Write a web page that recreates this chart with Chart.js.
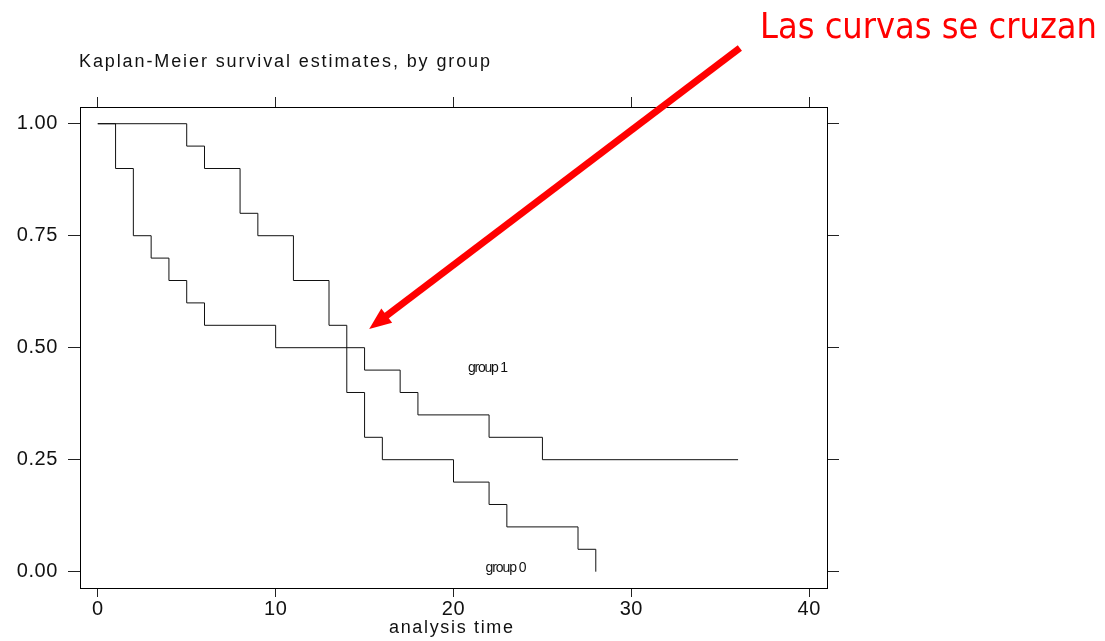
<!DOCTYPE html>
<html lang="es">
<head>
  <meta charset="UTF-8">
  <title>Kaplan-Meier survival estimates, by group</title>
  <script src="https://cdn.jsdelivr.net/npm/chart.js"></script>
  <style>
    body { margin: 0; background: #fff; }
    #container { width: 1105px; height: 641px; }
  </style>
</head>
<body>
  <div id="container">
    <canvas id="chart" width="1105" height="641"></canvas>
  </div>
  <script>
    // Tiempos de evento y supervivencia estimada por grupo
    const group0Times = [0, 5, 6, 8, 9, 11, 13, 14, 15, 16, 20, 22, 23, 27, 28];
    const group0Surv  = [1.00, 0.95, 0.90, 0.80, 0.75, 0.65, 0.55, 0.40, 0.30, 0.25, 0.20, 0.15, 0.10, 0.05, 0.00];
    const group1Times = [0, 1, 2, 3, 4, 5, 6, 10, 15, 17, 18, 22, 25, 36];
    const group1Surv  = [1.00, 0.90, 0.75, 0.70, 0.65, 0.60, 0.55, 0.50, 0.45, 0.40, 0.35, 0.30, 0.25, 0.25];

    const xTicks = [0, 10, 20, 30, 40];
    const yTicks = [0, 0.25, 0.5, 0.75, 1];

    const xMin = -1, xMax = 41;
    const yMin = -0.0364, yMax = 1.0373;

    const toPoints = (t, s) => t.map((v, i) => ({ x: v, y: s[i] }));

    // escribe texto ajustado a un ancho dado con espaciado entre letras
    function spacedText(ctx, text, x, y, width) {
      ctx.letterSpacing = '0px';
      const w = ctx.measureText(text).width;
      ctx.letterSpacing = ((width - w) / (text.length - 1)) + 'px';
      ctx.fillText(text, x, y);
      ctx.letterSpacing = '0px';
    }

    const notes = {
      id: 'notes',
      beforeDraw(chart) {
        chart.ctx.letterSpacing = '0.6px';
      },
      afterDraw(chart) {
        const ctx = chart.ctx;
        const xs = chart.scales.x, ys = chart.scales.y;
        ctx.save();
        ctx.letterSpacing = '0px';
        ctx.textBaseline = 'alphabetic';
        ctx.textAlign = 'left';
        ctx.fillStyle = '#111';

        ctx.font = '18px "Liberation Sans", Arial, sans-serif';
        spacedText(ctx, 'Kaplan-Meier survival estimates, by group', 79, 67, 411);

        ctx.font = '18px "Liberation Sans", Arial, sans-serif';
        spacedText(ctx, 'analysis time', 389, 633, 124);

        // etiquetas de cada curva
        ctx.font = '14px "Liberation Sans", Arial, sans-serif';
        spacedText(ctx, 'group 1', xs.getPixelForValue(20.82), ys.getPixelForValue(0.446), 40);
        spacedText(ctx, 'group 0', xs.getPixelForValue(21.8), ys.getPixelForValue(0.0), 41);

        // flecha hacia el cruce de las curvas
        const x1 = xs.getPixelForValue(36.1), y1 = ys.getPixelForValue(1.169);
        const x2 = xs.getPixelForValue(15.26), y2 = ys.getPixelForValue(0.542);
        const ang = Math.atan2(y2 - y1, x2 - x1);
        const head = 22, half = 9;
        const bx = x2 - head * Math.cos(ang), by = y2 - head * Math.sin(ang);
        ctx.strokeStyle = '#ff0000';
        ctx.fillStyle = '#ff0000';
        ctx.lineWidth = 7;
        ctx.beginPath();
        ctx.moveTo(x1, y1);
        ctx.lineTo(bx + 2 * Math.cos(ang), by + 2 * Math.sin(ang));
        ctx.stroke();
        ctx.beginPath();
        ctx.moveTo(x2, y2);
        ctx.lineTo(bx + half * Math.sin(ang), by - half * Math.cos(ang));
        ctx.lineTo(bx - half * Math.sin(ang), by + half * Math.cos(ang));
        ctx.closePath();
        ctx.fill();

        ctx.font = '35px "DejaVu Sans Condensed", "DejaVu Sans", sans-serif';
        const msg = 'Las curvas se cruzan';
        const mw = ctx.measureText(msg).width;
        ctx.translate(760, 38);
        ctx.scale(337 / mw, 1);
        ctx.fillText(msg, 0, 0);
        ctx.restore();
      }
    };

    const tickFont = { family: '"Liberation Sans", Arial, sans-serif', size: 20 };
    const fixTicks = vals => scale => { scale.ticks = vals.map(v => ({ value: v })); };

    function axis(opts) {
      return Object.assign({
        type: 'linear',
        border: { display: true, color: '#000', width: 1 },
      }, opts);
    }

    new Chart(document.getElementById('chart'), {
      type: 'line',
      data: {
        datasets: [
          {
            label: 'group 0',
            data: toPoints(group0Times, group0Surv),
            stepped: true,
            borderColor: '#111',
            borderWidth: 1,
            pointRadius: 0,
            fill: false
          },
          {
            label: 'group 1',
            data: toPoints(group1Times, group1Surv),
            stepped: true,
            borderColor: '#111',
            borderWidth: 1,
            pointRadius: 0,
            fill: false
          }
        ]
      },
      options: {
        responsive: false,
        animation: false,
        layout: { padding: 0 },
        plugins: { legend: { display: false }, tooltip: { enabled: false }, title: { display: false } },
        scales: {
          x: axis({
            position: 'bottom', min: xMin, max: xMax,
            grid: { drawOnChartArea: false, color: '#222', tickLength: 9 },
            ticks: { font: tickFont, color: '#111', padding: 0, maxRotation: 0 },
            afterBuildTicks: fixTicks(xTicks),
            afterFit: s => { s.height = 53; }
          }),
          x2: axis({
            position: 'top', min: xMin, max: xMax,
            grid: { drawOnChartArea: false, color: '#222', tickLength: 10 },
            ticks: { display: false },
            afterBuildTicks: fixTicks(xTicks),
            afterFit: s => { s.height = 107; }
          }),
          y: axis({
            position: 'left', min: yMin, max: yMax,
            grid: { drawOnChartArea: false, color: '#222', tickLength: 12 },
            ticks: { font: tickFont, color: '#111', padding: 10, callback: v => v.toFixed(2) },
            afterBuildTicks: fixTicks(yTicks),
            afterFit: s => { s.width = 80; }
          }),
          y2: axis({
            position: 'right', min: yMin, max: yMax,
            grid: { drawOnChartArea: false, color: '#222', tickLength: 12 },
            ticks: { display: false },
            afterBuildTicks: fixTicks(yTicks),
            afterFit: s => { s.width = 278; }
          })
        }
      },
      plugins: [notes]
    });
  </script>
</body>
</html>
